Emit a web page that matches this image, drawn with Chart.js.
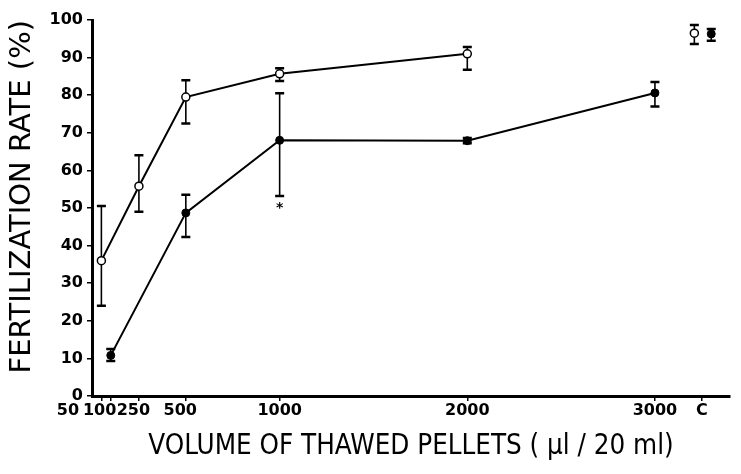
<!DOCTYPE html>
<html>
<head>
<meta charset="utf-8">
<script src="https://cdn.jsdelivr.net/npm/chart.js@4.4.1/dist/chart.umd.min.js"></script>
<style>
	html, body { margin: 0; padding: 0; background: #fff; }
	#wrap { width: 741px; height: 474px; }
</style>
</head>
<body>
<div id="wrap"><canvas id="chart"></canvas></div>
<script>
// open circles
const openX = [50, 250, 500, 1000, 2000];
const openY = [36, 55.8, 79.5, 85.7, 91];
const openHi = [50.5, 64, 84, 87.2, 92.8];
const openLo = [24, 49, 72.5, 83.8, 86.8];
// filled circles
const filledX = [100, 500, 1000, 2000, 3000];
const filledY = [10.8, 48.7, 68, 67.9, 80.6];
const filledHi = [12.5, 53.5, 80.5, 68.6, 83.5];
const filledLo = [9.3, 42.3, 53.2, 67.2, 77];
// controls (C)
const ctrlOpen = { x: 3210, y: 96.5, hi: 98.7, lo: 93.6 };
const ctrlFilled = { x: 3300, y: 96.3, hi: 97.6, lo: 94.5 };
// axis ticks
const xTickValues = [50, 100, 250, 500, 1000, 2000, 3000, 3250];
const xTickLabels = ['50', '100', '250', '500', '1000', '2000', '3000', 'C'];
const yTicks = [0, 10, 20, 30, 40, 50, 60, 70, 80, 90, 100];

const toPts = (xs, ys) => xs.map((x, i) => ({ x: x, y: ys[i] }));

// 오차 막대
const errorBars = {
	id: 'errorBars',
	beforeDatasetsDraw(chart) {
		const ctx = chart.ctx;
		const yScale = chart.scales.y;
		chart.data.datasets.forEach((ds, di) => {
			if (!ds.errHi) return;
			const meta = chart.getDatasetMeta(di);
			meta.data.forEach((pt, i) => {
				const top = yScale.getPixelForValue(ds.errHi[i]);
				const bot = yScale.getPixelForValue(ds.errLo[i]);
				ctx.save();
				ctx.strokeStyle = '#000';
				ctx.lineWidth = 1.6;
				ctx.beginPath();
				ctx.moveTo(pt.x, top);
				ctx.lineTo(pt.x, bot);
				ctx.stroke();
				ctx.lineWidth = 2.5;
				ctx.beginPath();
				ctx.moveTo(pt.x - 4.5, top);
				ctx.lineTo(pt.x + 4.5, top);
				ctx.moveTo(pt.x - 4.5, bot);
				ctx.lineTo(pt.x + 4.5, bot);
				ctx.stroke();
				ctx.restore();
			});
		});
	},
	afterDatasetsDraw(chart) {
		// asterisk under the 1000 filled point
		const ctx = chart.ctx;
		const i = filledX.indexOf(1000);
		const x = chart.scales.x.getPixelForValue(filledX[i]);
		const y = chart.scales.y.getPixelForValue(filledLo[i]);
		ctx.save();
		ctx.fillStyle = '#000';
		ctx.font = 'bold 14px "DejaVu Sans"';
		ctx.textAlign = 'center';
		ctx.textBaseline = 'top';
		ctx.fillText('*', x, y + 5);
		ctx.restore();
	}
};

// crowded labels at the low end are pushed left, as in the original
const labelPad = [6, 2, 1, 1, 0, 0, 0, 0];

document.addEventListener('DOMContentLoaded', function() {
	const ctx = document.getElementById('chart').getContext('2d');
	new Chart(ctx, {
		type: 'line',
		data: {
			datasets: [
				{
					data: toPts(openX, openY),
					errHi: openHi, errLo: openLo,
					borderColor: '#000', borderWidth: 2,
					pointRadius: 4, pointBorderWidth: 1.5,
					pointBackgroundColor: '#fff', pointBorderColor: '#000'
				},
				{
					data: toPts(filledX, filledY),
					errHi: filledHi, errLo: filledLo,
					borderColor: '#000', borderWidth: 2,
					pointRadius: 4, pointBorderWidth: 1,
					pointBackgroundColor: '#000', pointBorderColor: '#000'
				},
				{
					data: [{ x: ctrlOpen.x, y: ctrlOpen.y }],
					errHi: [ctrlOpen.hi], errLo: [ctrlOpen.lo],
					showLine: false,
					pointRadius: 4, pointBorderWidth: 1.5,
					pointBackgroundColor: '#fff', pointBorderColor: '#000'
				},
				{
					data: [{ x: ctrlFilled.x, y: ctrlFilled.y }],
					errHi: [ctrlFilled.hi], errLo: [ctrlFilled.lo],
					showLine: false,
					pointRadius: 4, pointBorderWidth: 1,
					pointBackgroundColor: '#000', pointBorderColor: '#000'
				}
			]
		},
		options: {
			responsive: true,
			maintainAspectRatio: false,
			animation: false,
			layout: { padding: { top: 20, right: 11, left: 0, bottom: 0 } },
			plugins: { legend: { display: false }, tooltip: { enabled: false } },
			scales: {
				x: {
					type: 'linear',
					min: 0,
					max: 3400,
					afterBuildTicks: scale => { scale.ticks = xTickValues.map(v => ({ value: v })); },
					afterFit: scale => { scale.height = 78; },
					border: { display: true, color: '#000', width: 3 },
					grid: { drawOnChartArea: false, drawTicks: true, tickLength: 5, color: '#000', lineWidth: 1.5 },
					ticks: {
						autoSkip: false,
						maxRotation: 0,
						padding: 0,
						color: '#000',
						font: { family: '"DejaVu Sans"', size: 16, weight: 'bold' },
						callback: function(v) {
							const i = xTickValues.indexOf(v);
							return xTickLabels[i] + '\u2007'.repeat(labelPad[i]);
						}
					},
					title: {
						display: true,
						text: 'VOLUME OF THAWED PELLETS ( µl / 20 ml)',
						color: '#000',
						font: { family: '"DejaVu Sans Condensed", "Liberation Sans Narrow", "DejaVu Sans"', size: 27.5, weight: 'normal', lineHeight: 1.2 },
						padding: { top: 0, bottom: 11 }
					}
				},
				y: {
					min: 0,
					max: 100,
					afterBuildTicks: scale => { scale.ticks = yTicks.map(v => ({ value: v })); },
					afterFit: scale => { scale.width = 92; },
					border: { display: true, color: '#000', width: 3 },
					grid: { drawOnChartArea: false, drawTicks: true, tickLength: 5, color: '#000', lineWidth: 1.5 },
					ticks: {
						padding: 4,
						color: '#000',
						font: { family: '"DejaVu Sans"', size: 16, weight: 'bold' }
					},
					title: {
						display: true,
						text: 'FERTILIZATION RATE (%)',
						align: 'end',
						color: '#000',
						font: { family: '"DejaVu Sans"', size: 29, weight: 'normal', lineHeight: 1 },
						padding: { top: 8, bottom: 0 }
					}
				}
			}
		},
		plugins: [errorBars]
	});
});
</script>
</body>
</html>
